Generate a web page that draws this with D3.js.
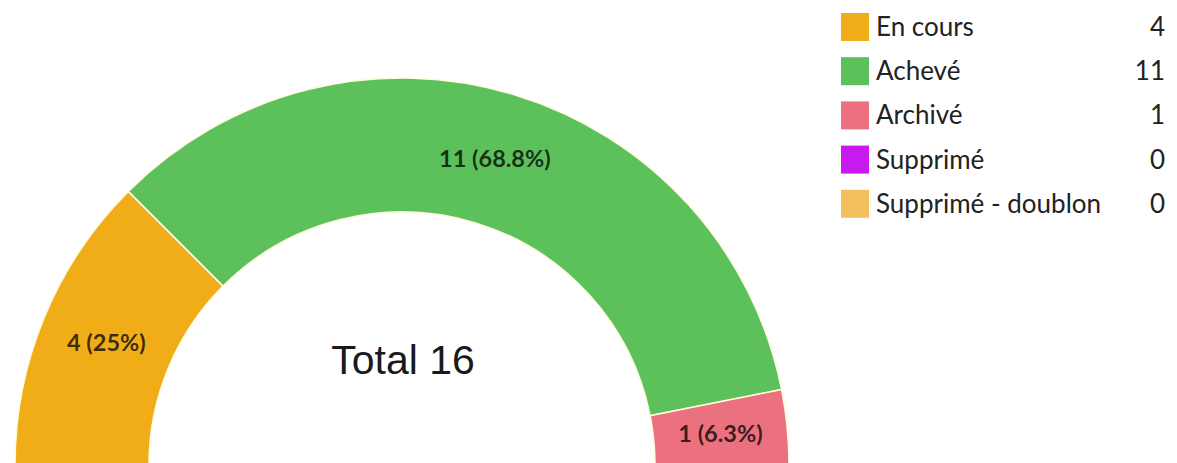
<!DOCTYPE html>
<html>
<head>
<meta charset="utf-8">
<script src="https://cdn.jsdelivr.net/npm/d3@7"></script>
<style>
  html, body { margin: 0; padding: 0; background: #fff; }
  svg { display: block; }
</style>
</head>
<body>
<svg id="chart"></svg>
<script>
// data
let categories = ['En cours', 'Achevé', 'Archivé', 'Supprimé', 'Supprimé - doublon'];
let counts = [4, 11, 1, 0, 0];
let colors = ['#f0ad18', '#5cc15b', '#ec717f', '#c81aef', '#f2c15e'];

let width = 1177;
let height = 463;

let cx = 402;
let cy = 465;
let outerR = 387;
let innerR = 253;

let svg = d3.select('#chart')
    .attr('width', width)
    .attr('height', height);

let total = d3.sum(counts);
let rows = categories.map((c, i) => ({ name: c, value: counts[i], color: colors[i] }));

// half donut, left to right
let pie = d3.pie()
    .value(d => d.value)
    .sort(null)
    .startAngle(-Math.PI / 2)
    .endAngle(Math.PI / 2);

let arc = d3.arc()
    .innerRadius(innerR)
    .outerRadius(outerR);

let g = svg.append('g')
    .attr('transform', `translate(${cx},${cy})`);

let slices = pie(rows).filter(d => d.data.value > 0);

g.selectAll('path')
    .data(slices)
    .enter()
    .append('path')
    .attr('d', arc)
    .attr('fill', d => d.data.color)
    .attr('stroke', '#fffbe0')
    .attr('stroke-width', 1.5);

let fmt = v => {
    let p = Math.round(v / total * 1000) / 10;
    return p + '%';
};

g.selectAll('text.lbl')
    .data(slices)
    .enter()
    .append('text')
    .attr('class', 'lbl')
    .attr('transform', d => `translate(${arc.centroid(d)})`)
    .attr('text-anchor', 'middle')
    .attr('dy', '0.35em')
    .style('font-family', 'Lato, "Liberation Sans", sans-serif')
    .style('font-weight', 'bold')
    .style('font-size', '23.5px')
    .attr('fill', '#000')
    .attr('fill-opacity', 0.75)
    .text(d => `${d.data.value} (${fmt(d.data.value)})`);

// total in the middle
svg.append('text')
    .attr('x', cx + 1)
    .attr('y', 374)
    .attr('text-anchor', 'middle')
    .style('font-family', '"Liberation Sans", Arial, sans-serif')
    .style('font-size', '41px')
    .attr('fill', '#1a1a1a')
    .text('Total ' + total);

// legend
let legend = svg.append('g')
    .attr('transform', 'translate(841,13)');

let item = legend.selectAll('g')
    .data(rows)
    .enter()
    .append('g')
    .attr('transform', (d, i) => `translate(0,${i * 44.2})`);

item.append('rect')
    .attr('width', 28)
    .attr('height', 28)
    .attr('fill', d => d.color);

item.append('text')
    .attr('x', 35)
    .attr('y', 23)
    .style('font-family', 'Lato, sans-serif')
    .style('font-size', '26px')
    .attr('fill', '#222')
    .text(d => d.name);

item.append('text')
    .attr('x', 1165 - 841)
    .attr('y', 23)
    .attr('text-anchor', 'end')
    .style('font-family', 'Lato, sans-serif')
    .style('font-size', '26px')
    .attr('fill', '#222')
    .text(d => d.value);
</script>
</body>
</html>
